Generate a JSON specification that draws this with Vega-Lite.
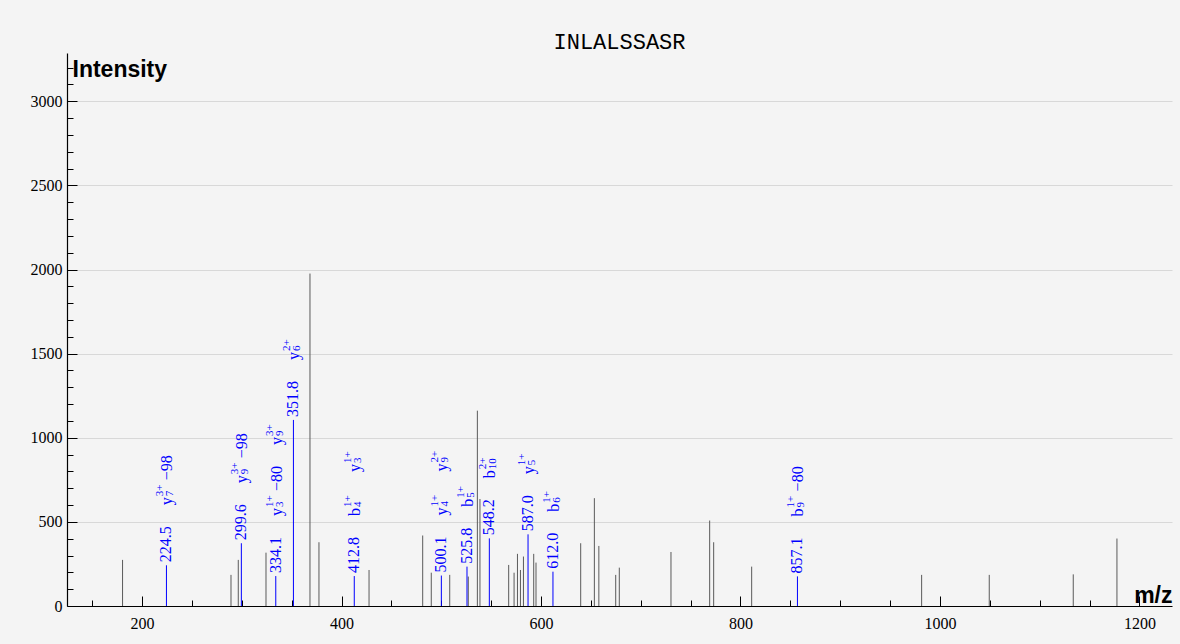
{
  "$schema": "https://vega.github.io/schema/vega-lite/v6.json",
  "width": 1105,
  "height": 553,
  "autosize": {"type": "none"},
  "padding": {"left": 67, "top": 53, "right": 8, "bottom": 38},
  "background": "#f4f4f4",
  "config": {"view": {"stroke": null}},
  "title": {"text": "INLALSSASR", "font": "Liberation Mono", "fontSize": 22, "fontWeight": "normal", "color": "#000000", "anchor": "middle", "offset": -18, "baseline": "alphabetic"},
  "datasets": {
    "peaks": [
      {"mz": 180.5, "intensity": 274},
      {"mz": 289.2, "intensity": 185},
      {"mz": 296.5, "intensity": 274},
      {"mz": 324.3, "intensity": 317},
      {"mz": 368.4, "intensity": 1976},
      {"mz": 377.4, "intensity": 379},
      {"mz": 427.6, "intensity": 214},
      {"mz": 481.4, "intensity": 419},
      {"mz": 490.0, "intensity": 198},
      {"mz": 508.5, "intensity": 185},
      {"mz": 527.1, "intensity": 175},
      {"mz": 536.2, "intensity": 1161},
      {"mz": 538.8, "intensity": 636},
      {"mz": 567.6, "intensity": 244},
      {"mz": 573.0, "intensity": 198},
      {"mz": 576.4, "intensity": 310},
      {"mz": 579.4, "intensity": 214},
      {"mz": 582.4, "intensity": 294},
      {"mz": 592.7, "intensity": 310},
      {"mz": 595.0, "intensity": 258},
      {"mz": 639.8, "intensity": 373},
      {"mz": 653.5, "intensity": 641},
      {"mz": 658.0, "intensity": 357},
      {"mz": 674.9, "intensity": 185},
      {"mz": 678.5, "intensity": 228},
      {"mz": 730.3, "intensity": 321},
      {"mz": 769.1, "intensity": 508},
      {"mz": 773.1, "intensity": 379},
      {"mz": 811.2, "intensity": 234},
      {"mz": 981.6, "intensity": 185},
      {"mz": 1049.4, "intensity": 185},
      {"mz": 1133.6, "intensity": 188},
      {"mz": 1177.4, "intensity": 401}
    ],
    "ions": [
      {"mz": 224.5, "intensity": 242, "l1": "y", "n1": "7", "c1": "3+", "s1": "−98", "l2": "", "n2": "", "c2": ""},
      {"mz": 299.6, "intensity": 373, "l1": "y", "n1": "9", "c1": "3+", "s1": "−98", "l2": "", "n2": "", "c2": ""},
      {"mz": 334.1, "intensity": 178, "l1": "y", "n1": "3", "c1": "1+", "s1": "−80", "l2": "y", "n2": "9", "c2": "3+"},
      {"mz": 351.8, "intensity": 1106, "l1": "y", "n1": "6", "c1": "2+", "s1": "", "l2": "", "n2": "", "c2": ""},
      {"mz": 412.8, "intensity": 178, "l1": "b", "n1": "4", "c1": "1+", "s1": "", "l2": "y", "n2": "3", "c2": "1+"},
      {"mz": 500.1, "intensity": 181, "l1": "y", "n1": "4", "c1": "1+", "s1": "", "l2": "y", "n2": "9", "c2": "2+"},
      {"mz": 525.8, "intensity": 234, "l1": "b", "n1": "5", "c1": "1+", "s1": "", "l2": "", "n2": "", "c2": ""},
      {"mz": 548.2, "intensity": 402, "l1": "b", "n1": "10", "c1": "2+", "s1": "", "l2": "", "n2": "", "c2": ""},
      {"mz": 587.0, "intensity": 426, "l1": "y", "n1": "5", "c1": "1+", "s1": "", "l2": "", "n2": "", "c2": ""},
      {"mz": 612.0, "intensity": 204, "l1": "b", "n1": "6", "c1": "1+", "s1": "", "l2": "", "n2": "", "c2": ""},
      {"mz": 857.1, "intensity": 176, "l1": "b", "n1": "9", "c1": "1+", "s1": "−80", "l2": "", "n2": "", "c2": ""}
    ]
  },
  "encoding": {
    "x": {"field": "mz", "type": "quantitative"},
    "y": {"field": "intensity", "type": "quantitative"}
  },
  "layer": [
    {
      "data": {"name": "peaks"},
      "mark": {"type": "rule", "color": "#5a5a5a", "strokeWidth": 1},
      "encoding": {
        "x": {
          "field": "mz", "type": "quantitative",
          "scale": {"domain": [124.8, 1232.6], "nice": false, "zero": false},
          "axis": {
            "values": [150, 200, 250, 300, 350, 400, 450, 500, 550, 600, 650, 700, 750, 800, 850, 900, 950, 1000, 1050, 1100, 1150, 1200],
            "tickCount": 1000,
            "format": "d",
            "labelExpr": "datum.value % 200 === 0 ? datum.label : ''",
            "tickSize": {"condition": {"test": "datum.value % 200 === 0", "value": -10}, "value": -6},
            "tickColor": "#000000", "tickWidth": 1,
            "domainColor": "#000000", "domainWidth": 1.2,
            "labelFont": "Liberation Serif", "labelFontSize": 16, "labelColor": "#000000",
            "labelPadding": 19, "labelFlush": false, "labelOverlap": false,
            "grid": false,
            "title": "m/z", "titleFont": "Liberation Sans", "titleFontSize": 23, "titleFontWeight": "bold", "titleColor": "#000000",
            "titleX": 1105, "titleY": -4, "titleAlign": "right", "titleBaseline": "alphabetic", "titleAnchor": null
          }
        },
        "y": {
          "field": "intensity", "type": "quantitative",
          "scale": {"domain": [0, 3287], "nice": false},
          "axis": {
            "values": [0, 100, 200, 300, 400, 500, 600, 700, 800, 900, 1000, 1100, 1200, 1300, 1400, 1500, 1600, 1700, 1800, 1900, 2000, 2100, 2200, 2300, 2400, 2500, 2600, 2700, 2800, 2900, 3000, 3100, 3200],
            "tickCount": 1000,
            "format": "d",
            "labelExpr": "datum.value % 500 === 0 ? datum.label : ''",
            "tickSize": {"condition": {"test": "datum.value % 500 === 0", "value": -10}, "value": -6},
            "tickColor": "#000000", "tickWidth": 1,
            "domainColor": "#000000", "domainWidth": 1.2,
            "labelFont": "Liberation Serif", "labelFontSize": 16, "labelColor": "#000000",
            "labelPadding": 15, "labelOverlap": false,
            "grid": true,
            "gridColor": {"condition": {"test": "datum.value % 500 === 0 && datum.value > 0", "value": "#d8d8d8"}, "value": "transparent"},
            "gridWidth": 1,
            "title": "Intensity", "titleFont": "Liberation Sans", "titleFontSize": 23, "titleFontWeight": "bold", "titleColor": "#000000",
            "titleAngle": 0, "titleX": 5, "titleY": 23, "titleAlign": "left", "titleBaseline": "alphabetic"
          }
        },
        "y2": {"datum": 0}
      }
    },
    {
      "data": {"name": "ions"},
      "mark": {"type": "rule", "color": "#0000ff", "strokeWidth": 1},
      "encoding": {"y2": {"datum": 0}}
    },
    {
      "data": {"name": "ions"},
      "mark": {"type": "text", "angle": 270, "align": "left", "baseline": "middle", "dx": 3, "font": "Liberation Serif", "fontSize": 16, "color": "#0000ff"},
      "encoding": {"text": {"field": "mz", "type": "quantitative", "format": ".1f"}}
    },
    {
      "data": {"name": "ions"},
      "mark": {"type": "text", "angle": 270, "align": "left", "baseline": "middle", "dx": 60, "dy": 1, "font": "Liberation Serif", "fontSize": 16, "color": "#0000ff"},
      "encoding": {"text": {"field": "l1", "type": "nominal"}}
    },
    {
      "data": {"name": "ions"},
      "mark": {"type": "text", "angle": 270, "align": "left", "baseline": "middle", "dx": 69, "dy": 4, "font": "Liberation Serif", "fontSize": 11, "color": "#0000ff"},
      "encoding": {"text": {"field": "n1", "type": "nominal"}}
    },
    {
      "data": {"name": "ions"},
      "mark": {"type": "text", "angle": 270, "align": "left", "baseline": "middle", "dx": 69, "dy": -6, "font": "Liberation Serif", "fontSize": 11, "color": "#0000ff"},
      "encoding": {"text": {"field": "c1", "type": "nominal"}}
    },
    {
      "data": {"name": "ions"},
      "mark": {"type": "text", "angle": 270, "align": "left", "baseline": "middle", "dx": 85, "dy": 1, "font": "Liberation Serif", "fontSize": 16, "color": "#0000ff"},
      "encoding": {"text": {"field": "s1", "type": "nominal"}}
    },
    {
      "data": {"name": "ions"},
      "transform": [{"filter": "datum.l2 !== '' && datum.s1 === ''"}],
      "mark": {"type": "text", "angle": 270, "align": "left", "baseline": "middle", "dx": 104, "dy": 1, "font": "Liberation Serif", "fontSize": 16, "color": "#0000ff"},
      "encoding": {"text": {"field": "l2", "type": "nominal"}}
    },
    {
      "data": {"name": "ions"},
      "transform": [{"filter": "datum.l2 !== '' && datum.s1 === ''"}],
      "mark": {"type": "text", "angle": 270, "align": "left", "baseline": "middle", "dx": 113, "dy": 4, "font": "Liberation Serif", "fontSize": 11, "color": "#0000ff"},
      "encoding": {"text": {"field": "n2", "type": "nominal"}}
    },
    {
      "data": {"name": "ions"},
      "transform": [{"filter": "datum.l2 !== '' && datum.s1 === ''"}],
      "mark": {"type": "text", "angle": 270, "align": "left", "baseline": "middle", "dx": 113, "dy": -6, "font": "Liberation Serif", "fontSize": 11, "color": "#0000ff"},
      "encoding": {"text": {"field": "c2", "type": "nominal"}}
    },
    {
      "data": {"name": "ions"},
      "transform": [{"filter": "datum.l2 !== '' && datum.s1 !== ''"}],
      "mark": {"type": "text", "angle": 270, "align": "left", "baseline": "middle", "dx": 131, "dy": 1, "font": "Liberation Serif", "fontSize": 16, "color": "#0000ff"},
      "encoding": {"text": {"field": "l2", "type": "nominal"}}
    },
    {
      "data": {"name": "ions"},
      "transform": [{"filter": "datum.l2 !== '' && datum.s1 !== ''"}],
      "mark": {"type": "text", "angle": 270, "align": "left", "baseline": "middle", "dx": 140, "dy": 4, "font": "Liberation Serif", "fontSize": 11, "color": "#0000ff"},
      "encoding": {"text": {"field": "n2", "type": "nominal"}}
    },
    {
      "data": {"name": "ions"},
      "transform": [{"filter": "datum.l2 !== '' && datum.s1 !== ''"}],
      "mark": {"type": "text", "angle": 270, "align": "left", "baseline": "middle", "dx": 140, "dy": -6, "font": "Liberation Serif", "fontSize": 11, "color": "#0000ff"},
      "encoding": {"text": {"field": "c2", "type": "nominal"}}
    }
  ]
}
